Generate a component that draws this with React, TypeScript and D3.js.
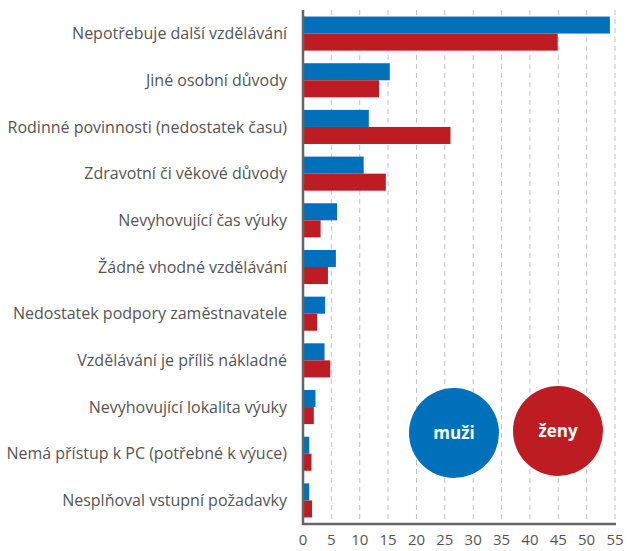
import React, { useEffect, useRef } from 'react';
import * as d3 from 'd3';

const categories = [
  'Nepotřebuje další vzdělávání',
  'Jiné osobní důvody',
  'Rodinné povinnosti (nedostatek času)',
  'Zdravotní či věkové důvody',
  'Nevyhovující čas výuky',
  'Žádné vhodné vzdělávání',
  'Nedostatek podpory zaměstnavatele',
  'Vzdělávání je příliš nákladné',
  'Nevyhovující lokalita výuky',
  'Nemá přístup k PC (potřebné k výuce)',
  'Nesplňoval vstupní požadavky',
];
const muzi = [54.1, 15.3, 11.6, 10.7, 6.0, 5.8, 3.9, 3.8, 2.2, 1.1, 1.1];
const zeny = [44.9, 13.4, 26.0, 14.6, 3.1, 4.4, 2.5, 4.8, 1.9, 1.5, 1.6];
const xTicks = [0, 5, 10, 15, 20, 25, 30, 35, 40, 45, 50, 55];
const seriesNames = ['muži', 'ženy'];

const BLUE = '#0070BA';
const RED = '#BE1C23';
const TEXT = '#555555';
const FONT = '"Open Sans", Lato, sans-serif';

export default function App() {
  const svgRef = useRef<SVGSVGElement>(null);

  useEffect(() => {
    if (!svgRef.current) return;
    const width = 627;
    const height = 551;
    const svg = d3.select(svgRef.current);
    svg.selectAll('*').remove();
    svg.attr('width', width).attr('height', height).style('font-family', FONT);

    const x = d3.scaleLinear().domain([0, 55]).range([303, 615]);
    const y = d3.scaleBand<string>()
      .domain(categories)
      .range([10, 524])
      .paddingInner(0.27)
      .paddingOuter(0.14);
    const sub = d3.scaleBand<string>().domain(seriesNames).range([0, y.bandwidth()]);

    // dashed grid
    svg.append('g')
      .selectAll('line')
      .data(xTicks.filter(t => t > 0))
      .join('line')
      .attr('x1', d => x(d)).attr('x2', d => x(d))
      .attr('y1', 10).attr('y2', 524)
      .attr('stroke', '#c4c4c4')
      .attr('stroke-width', 1)
      .attr('stroke-dasharray', '5,4');

    const rows = svg.append('g')
      .selectAll('g')
      .data(categories)
      .join('g')
      .attr('transform', d => `translate(0,${y(d)})`);

    rows.append('rect')
      .attr('x', x(0))
      .attr('y', sub('muži')!)
      .attr('height', sub.bandwidth())
      .attr('width', (d, i) => x(muzi[i]) - x(0))
      .attr('fill', BLUE);

    rows.append('rect')
      .attr('x', x(0))
      .attr('y', sub('ženy')!)
      .attr('height', sub.bandwidth())
      .attr('width', (d, i) => x(zeny[i]) - x(0))
      .attr('fill', RED);

    // category labels
    svg.append('g')
      .selectAll('text')
      .data(categories)
      .join('text')
      .attr('x', 287)
      .attr('y', d => y(d)! + y.bandwidth() / 2)
      .attr('dy', '0.35em')
      .attr('text-anchor', 'end')
      .attr('fill', TEXT)
      .style('font-size', '16px')
      .text(d => d);

    // axes lines
    svg.append('line')
      .attr('x1', x(0)).attr('x2', x(0))
      .attr('y1', 10).attr('y2', 525)
      .attr('stroke', '#666').attr('stroke-width', 2.5);
    svg.append('line')
      .attr('x1', x(0) - 1).attr('x2', x(55) + 1)
      .attr('y1', 524).attr('y2', 524)
      .attr('stroke', '#666').attr('stroke-width', 2.5);

    svg.append('g')
      .selectAll('text')
      .data(xTicks)
      .join('text')
      .attr('x', d => x(d))
      .attr('y', 540)
      .attr('dy', '0.35em')
      .attr('text-anchor', 'middle')
      .attr('fill', TEXT)
      .style('font-size', '15px')
      .text(d => d);

    // legend bubbles
    const legend = [
      { name: seriesNames[0], color: BLUE, cx: 454, cy: 433 },
      { name: seriesNames[1], color: RED, cx: 558, cy: 431 },
    ];
    const lg = svg.append('g')
      .selectAll('g')
      .data(legend)
      .join('g')
      .attr('transform', d => `translate(${d.cx},${d.cy})`);
    lg.append('circle').attr('r', 45).attr('fill', d => d.color);
    lg.append('text')
      .attr('text-anchor', 'middle')
      .attr('dy', '0.35em')
      .attr('fill', '#fff')
      .style('font-size', '17px')
      .style('font-weight', 700)
      .text(d => d.name);
  }, []);

  return <svg ref={svgRef} style={{ display: 'block', position: 'absolute', left: 0, top: 0 }}></svg>;
}
